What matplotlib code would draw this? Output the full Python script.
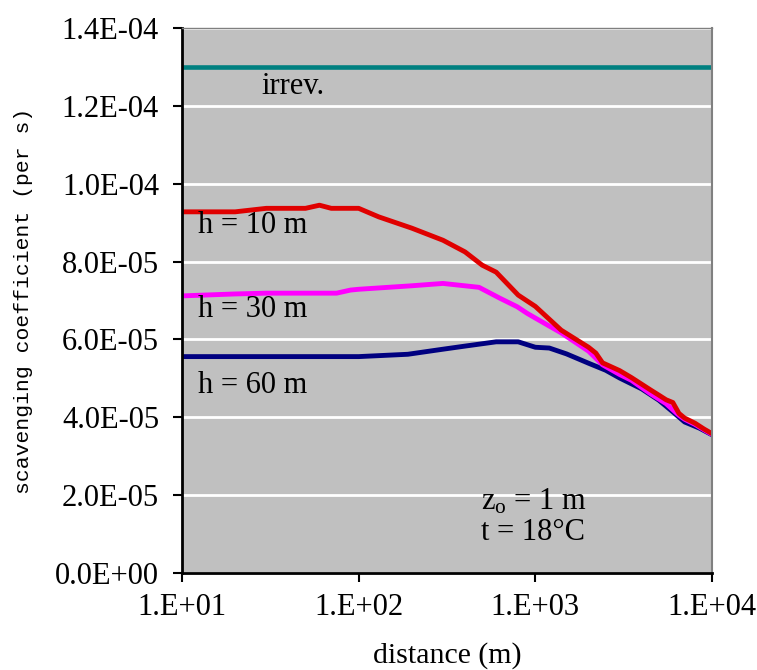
import numpy as np
import matplotlib
matplotlib.use('Agg')
import matplotlib.pyplot as plt
from matplotlib.ticker import FuncFormatter, FixedLocator

plt.rcParams['font.family'] = ['Liberation Serif', 'DejaVu Serif']
plt.rcParams['mathtext.fontset'] = 'custom'
plt.rcParams['mathtext.rm'] = 'Liberation Serif'
plt.rcParams['mathtext.it'] = 'Liberation Serif:italic'

# irreversible scavenging (constant)
irrev_x = [10, 10000]
irrev_y = [1.30e-4, 1.30e-4]

# h = 10 m
h10_x = [10, 20, 30, 50, 60, 70, 100, 130, 200, 300, 400, 500, 600, 800, 1000,
         1400, 2000, 2200, 2400, 3000, 3500, 4500, 5000, 5500, 6000, 6500, 7000,
         8000, 9000, 10000]
h10_y = [9.28, 9.28, 9.37, 9.37, 9.45, 9.37, 9.37, 9.15, 8.86, 8.55, 8.25, 7.91,
         7.73, 7.14, 6.85, 6.24, 5.80, 5.65, 5.40, 5.20, 5.02, 4.70, 4.57, 4.45,
         4.38, 4.10, 3.98, 3.85, 3.70, 3.58]

# h = 30 m
h30_x = [10, 20, 30, 50, 75, 90, 100, 200, 300, 480, 630, 790, 900, 1000, 1400,
         2000, 2400, 3000, 3500, 4500, 5500, 6500, 7000, 8000, 9000, 10000]
h30_y = [7.12, 7.17, 7.19, 7.19, 7.19, 7.27, 7.29, 7.38, 7.44, 7.34, 7.06, 6.84,
         6.67, 6.55, 6.17, 5.70, 5.35, 5.10, 4.95, 4.60, 4.35, 4.05, 3.95, 3.82,
         3.68, 3.56]

# h = 60 m
h60_x = [10, 20, 50, 100, 190, 300, 400, 600, 800, 1000, 1200, 1500, 2000, 2500,
         3000, 4000, 5000, 6000, 7000, 8500, 10000]
h60_y = [5.56, 5.56, 5.56, 5.56, 5.62, 5.75, 5.83, 5.94, 5.94, 5.80, 5.78, 5.63,
         5.39, 5.21, 5.01, 4.73, 4.44, 4.14, 3.88, 3.72, 3.55]

fig = plt.figure(figsize=(7.57, 6.70), dpi=100)
ax = fig.add_axes([0.2404, 0.1448, 0.7002, 0.8132])
ax.set_facecolor('#c0c0c0')

ax.plot(irrev_x, irrev_y, color='#008080', lw=3.3, solid_capstyle='butt')
ax.plot(h60_x, np.array(h60_y) * 1e-5, color='#000080', lw=3.5)
ax.plot(h30_x, np.array(h30_y) * 1e-5, color='#ff00ff', lw=3.5)
ax.plot(h10_x, np.array(h10_y) * 1e-5, color='#e00000', lw=3.5)

ax.set_xscale('log')
ax.set_xlim(10, 10000)
ax.set_ylim(0, 1.4e-4)
ax.xaxis.set_major_locator(FixedLocator([10, 100, 1000, 10000]))
ax.xaxis.set_minor_locator(FixedLocator([]))
ax.xaxis.set_major_formatter(FuncFormatter(lambda v, p: '1.E+%02d' % round(np.log10(v))))
ax.set_yticks(np.arange(0, 1.41e-4, 2e-5))
ax.yaxis.set_major_formatter(FuncFormatter(lambda v, p: '%.1E' % v))
ax.grid(axis='y', color='white', lw=2)
ax.set_axisbelow(True)

ax.tick_params(labelsize=22, length=6.5, width=1.5, color='black', direction='out')
ax.tick_params(axis='y', pad=10)
ax.tick_params(axis='x', pad=8)
ax.spines['top'].set_color('#808080')
ax.spines['top'].set_linewidth(1)
ax.spines['right'].set_color('#808080')
ax.spines['right'].set_linewidth(1.5)
ax.spines['left'].set_linewidth(2)
ax.spines['bottom'].set_linewidth(2)

ax.set_xlabel('distance (m)', fontsize=21.5, labelpad=14)
ax.set_ylabel('scavenging coefficient (per s)', fontsize=15.4,
              family='Liberation Mono', labelpad=16)

ax.text(28, 1.231e-4, 'irrev.', fontsize=22, va='baseline')
ax.text(12.4, 8.73e-5, 'h = 10 m', fontsize=22, va='baseline')
ax.text(12.4, 6.58e-5, 'h = 30 m', fontsize=22, va='baseline')
ax.text(12.4, 4.62e-5, 'h = 60 m', fontsize=22, va='baseline')
ax.text(490, 1.62e-5, 'z$_\\mathrm{o}$ = 1 m', fontsize=22, va='baseline')
ax.text(490, 0.85e-5, 't = 18°C', fontsize=22, va='baseline')

fig.savefig('out.png', dpi=100)
